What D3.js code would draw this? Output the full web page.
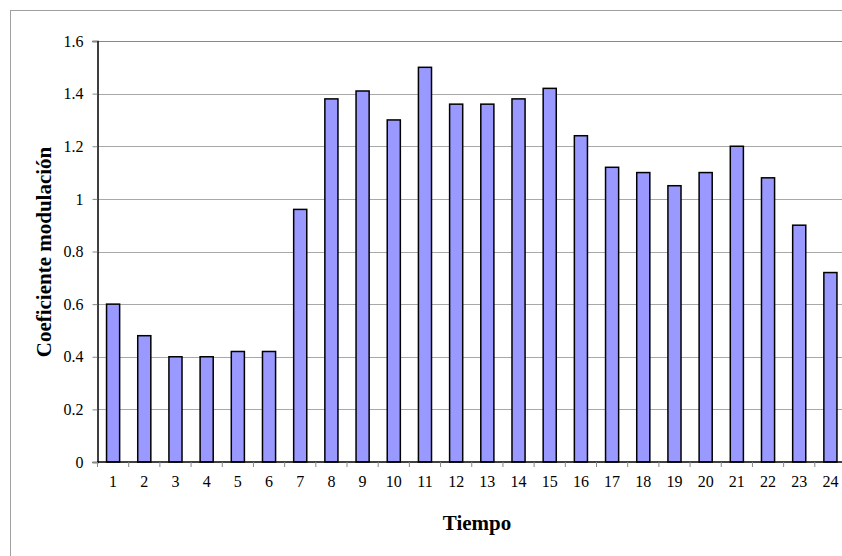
<!DOCTYPE html>
<html>
<head>
<meta charset="utf-8">
<script src="https://cdn.jsdelivr.net/npm/d3@7"></script>
<style>
  body { margin: 0; background: #fff; }
  svg { display: block; }
</style>
</head>
<body>
<svg id="chart" width="842" height="556"></svg>
<script>
// hours and modulation coefficient values
var hours = ['1','2','3','4','5','6','7','8','9','10','11','12','13','14','15','16','17','18','19','20','21','22','23','24'];
var coef = [0.6, 0.48, 0.4, 0.4, 0.42, 0.42, 0.96, 1.38, 1.41, 1.3, 1.5, 1.36, 1.36, 1.38, 1.42, 1.24, 1.12, 1.1, 1.05, 1.1, 1.2, 1.08, 0.9, 0.72];
var yTicks = [0, 0.2, 0.4, 0.6, 0.8, 1, 1.2, 1.4, 1.6];

const svg = d3.select('#chart');
const plotLeft = 97.5, plotRight = 846, plotTop = 41, plotBottom = 462;
const fontFam = 'Liberation Serif, Times New Roman, Times, serif';

// outer chart border
svg.append('rect')
    .attr('x', 10.5).attr('y', 10.5)
    .attr('width', 900).attr('height', 600)
    .attr('fill', 'none').attr('stroke', '#a0a0a0').attr('stroke-width', 1);

const xScale = d3.scaleBand()
    .domain(hours)
    .range([plotLeft, plotRight])
    .paddingInner(0.58)
    .paddingOuter(0.29);
const yScale = d3.scaleLinear()
    .domain([0, 1.6])
    .range([plotBottom, plotTop]);

// gridlines
svg.append('g').selectAll('line')
    .data(yTicks.slice(1))
    .enter().append('line')
    .attr('x1', plotLeft).attr('x2', plotRight)
    .attr('y1', function(d) { return Math.round(yScale(d)) + 0.5; })
    .attr('y2', function(d) { return Math.round(yScale(d)) + 0.5; })
    .attr('stroke', function(d) { return d === 1.6 ? '#888' : '#a8a8a8'; })
    .attr('stroke-width', 1);

// bars
svg.append('g').selectAll('rect')
    .data(coef)
    .enter().append('rect')
    .attr('x', function(d, i) { return xScale(hours[i]); })
    .attr('y', function(d) { return yScale(d); })
    .attr('width', xScale.bandwidth())
    .attr('height', function(d) { return yScale(0) - yScale(d); })
    .attr('fill', '#9999ff')
    .attr('stroke', '#000')
    .attr('stroke-width', 1.5);

// y axis
const yAxis = d3.axisLeft(yScale)
    .tickValues(yTicks)
    .tickFormat(function(d) { return String(d); })
    .tickSize(5)
    .tickPadding(9);
const gy = svg.append('g')
    .attr('transform', 'translate(' + plotLeft + ',0)')
    .call(yAxis);
gy.select('.domain').attr('stroke', '#000').attr('stroke-width', 1.5);
gy.selectAll('.tick line').attr('stroke', '#888');

// x axis with ticks between categories
const step = xScale.step();
const gx = svg.append('g')
    .attr('transform', 'translate(0,' + plotBottom + ')');
gx.append('line')
    .attr('x1', plotLeft).attr('x2', plotRight)
    .attr('stroke', '#000').attr('stroke-width', 1.5);
gx.selectAll('line.tick')
    .data(d3.range(hours.length + 1))
    .enter().append('line')
    .attr('class', 'tick')
    .attr('x1', function(i) { return plotLeft + i * step; })
    .attr('x2', function(i) { return plotLeft + i * step; })
    .attr('y1', 0).attr('y2', 5)
    .attr('stroke', '#888');
gx.selectAll('text')
    .data(hours)
    .enter().append('text')
    .attr('x', function(d) { return xScale(d) + xScale.bandwidth() / 2; })
    .attr('y', 25)
    .attr('text-anchor', 'middle')
    .text(function(d) { return d; });

svg.selectAll('text')
    .attr('font-family', fontFam)
    .attr('font-size', 16)
    .attr('fill', '#000');

// axis titles
svg.append('text')
    .attr('x', 477).attr('y', 530)
    .attr('text-anchor', 'middle')
    .attr('font-family', fontFam)
    .attr('font-size', 21).attr('font-weight', 'bold')
    .text('Tiempo');
svg.append('text')
    .attr('transform', 'translate(51,252) rotate(-90)')
    .attr('text-anchor', 'middle')
    .attr('font-family', fontFam)
    .attr('font-size', 21).attr('font-weight', 'bold')
    .text('Coeficiente modulación');
</script>
</body>
</html>
